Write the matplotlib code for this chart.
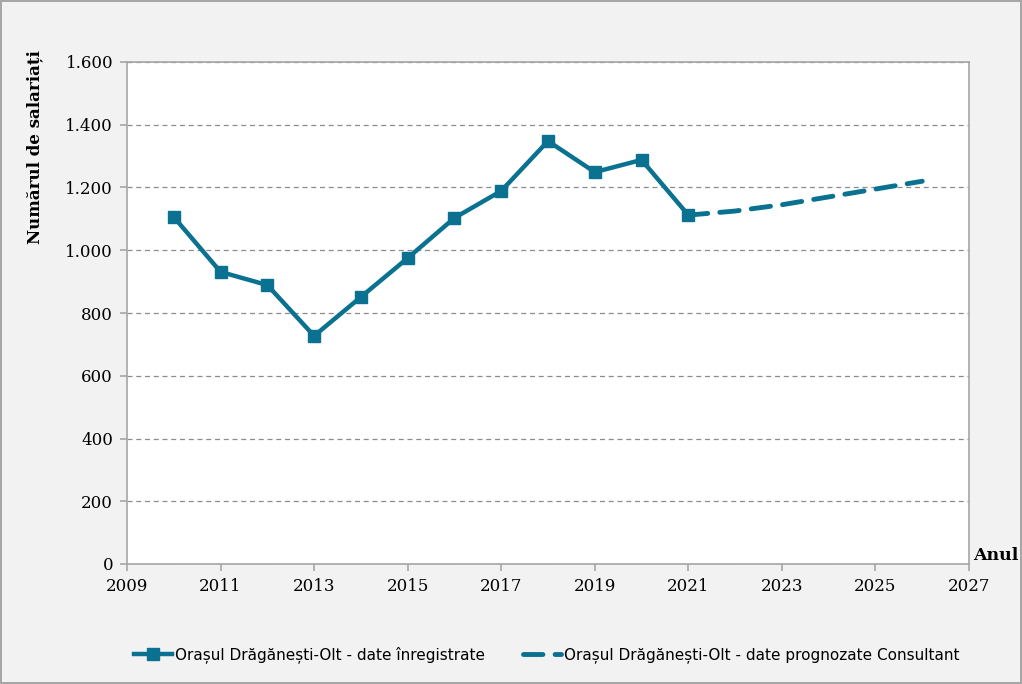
import matplotlib.pyplot as plt
from matplotlib.ticker import FuncFormatter

years = [2010, 2011, 2012, 2013, 2014, 2015, 2016, 2017, 2018, 2019, 2020, 2021]
salariati = [1106, 931, 889, 727, 851, 975, 1103, 1189, 1348, 1249, 1288, 1112]
ani_prognoza = [2021, 2022, 2023, 2024, 2025, 2026]
prognoza = [1112, 1125, 1145, 1170, 1195, 1220]

culoare = '#0a7290'
serif = ['DejaVu Serif']

fig = plt.figure(figsize=(10.22, 6.84), dpi=100)
fig.patch.set_facecolor('#f2f2f2')
fig.patch.set_edgecolor('#a6a6a6')
fig.patch.set_linewidth(1.5)
ax = fig.add_axes([127 / 1022, 1 - 564 / 684, (969 - 127) / 1022, (564 - 62) / 684])
ax.set_facecolor('white')

ax.plot(years, salariati, color=culoare, lw=3.2, marker='s', ms=8,
        label='Orașul Drăgănești-Olt - date înregistrate', zorder=3)
ax.plot(ani_prognoza, prognoza, color=culoare, lw=3.5, ls=(0, (4, 2.5)),
        solid_capstyle='round', dash_capstyle='round',
        label='Orașul Drăgănești-Olt - date prognozate Consultant', zorder=3)

ax.set_xlim(2009, 2027)
ax.set_ylim(0, 1600)
ax.set_xticks(range(2009, 2028, 2))
ax.set_yticks(range(0, 1601, 200))
ax.yaxis.set_major_formatter(FuncFormatter(lambda v, p: f'{int(v):,}'.replace(',', '.')))
ax.grid(axis='y', color='#8c8c8c', ls=(0, (4, 3)), lw=0.9)
ax.set_axisbelow(True)
for s in ax.spines.values():
    s.set_color('#a6a6a6')
    s.set_linewidth(1.2)
ax.tick_params(axis='both', colors='#a6a6a6', length=5, width=1.2, labelcolor='black', pad=5)
for lab in ax.get_xticklabels() + ax.get_yticklabels():
    lab.set_fontfamily(serif)
    lab.set_fontsize(12)

ax.set_ylabel('Numărul de salariați', fontfamily=serif, fontsize=12, fontweight='bold')
ax.yaxis.set_label_coords(-0.1, 0.83)
ax.text(1.005, 0.0, 'Anul', transform=ax.transAxes, fontfamily=serif, fontsize=12.5,
        fontweight='bold', ha='left', va='bottom')

fig.legend(loc='center', bbox_to_anchor=(0.535, 1 - 655 / 684), ncol=2, frameon=False,
           prop={'family': ['Liberation Sans Narrow', 'DejaVu Sans'], 'size': 11},
           handlelength=2.5, handletextpad=0.2, columnspacing=2.5)

fig.savefig('out.png', dpi=100, facecolor=fig.get_facecolor(), edgecolor=fig.get_edgecolor())
